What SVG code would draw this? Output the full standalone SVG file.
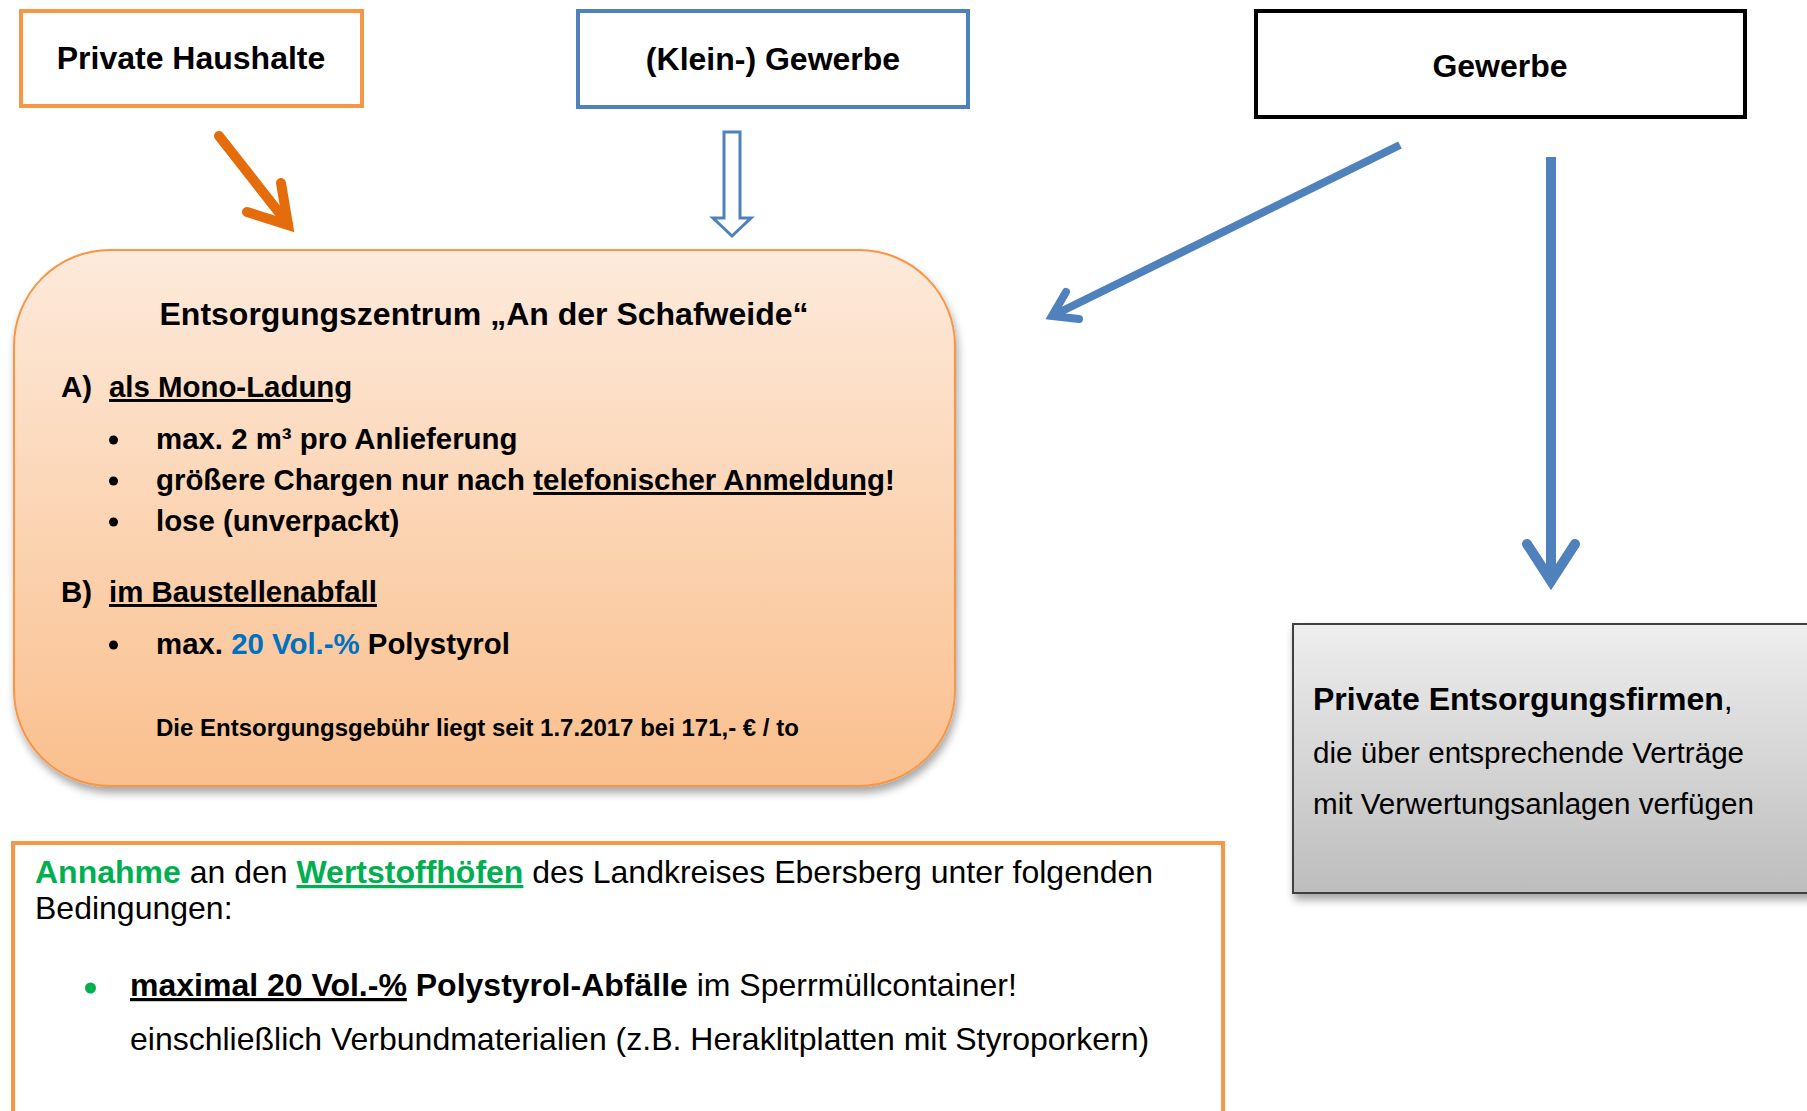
<svg xmlns="http://www.w3.org/2000/svg" width="1807" height="1111" viewBox="0 0 1807 1111">
<style>
text{font-family:"Liberation Sans",Arial,sans-serif;fill:#000}
.b{font-weight:bold}
.t32{font-size:32px}
.t29{font-size:29.4px}
.t295{font-size:29.6px}
.u{text-decoration:underline}
.box{fill:#fff;stroke-width:4}
.blue{stroke:#4F81BD;fill:none}
.green{fill:#00B050}
</style>
<defs>
<linearGradient id="gOrange" x1="0" y1="0" x2="0" y2="1">
<stop offset="0" stop-color="#FDEADB"/>
<stop offset="1" stop-color="#FABF8D"/>
</linearGradient>
<linearGradient id="gGray" x1="0" y1="0" x2="0" y2="1">
<stop offset="0" stop-color="#EEEEEE"/>
<stop offset="1" stop-color="#BDBDBD"/>
</linearGradient>
<filter id="shadow" x="-10%" y="-10%" width="120%" height="125%">
<feGaussianBlur in="SourceAlpha" stdDeviation="4"/>
<feOffset dx="2" dy="6" result="o"/>
<feComponentTransfer><feFuncA type="linear" slope="0.35"/></feComponentTransfer>
<feMerge><feMergeNode/><feMergeNode in="SourceGraphic"/></feMerge>
</filter>
</defs>
<rect width="1807" height="1111" fill="#fff"/>

<g id="private-haushalte">
<rect class="box" x="21" y="11" width="341" height="95" stroke="#F79646"/>
<text class="b t32" x="191" y="69" text-anchor="middle">Private Haushalte</text>
</g>

<g id="klein-gewerbe">
<rect class="box" x="578" y="11" width="390" height="96" stroke="#4F81BD"/>
<text class="b t32" x="773" y="70" text-anchor="middle">(Klein-) Gewerbe</text>
</g>

<g id="gewerbe">
<rect class="box" x="1256" y="11" width="489" height="106" stroke="#000"/>
<text class="b t32" x="1500" y="77" text-anchor="middle">Gewerbe</text>
</g>

<g id="entsorgungszentrum">
<rect x="14" y="250" width="941" height="536" rx="96" ry="96" fill="url(#gOrange)" stroke="#F79646" stroke-width="2" filter="url(#shadow)"/>
<text class="b t32" x="484" y="325" text-anchor="middle">Entsorgungszentrum „An der Schafweide“</text>
<text class="b t29" x="61" y="397">A)</text>
<text class="b t29 u" x="109" y="397">als Mono-Ladung</text>
<circle cx="113.5" cy="440" r="4.5"/>
<text class="b t29" x="156" y="449">max. 2 m³ pro Anlieferung</text>
<circle cx="113.5" cy="481" r="4.5"/>
<text class="b t29" x="156" y="490">größere Chargen nur nach <tspan class="u">telefonischer Anmeldung</tspan>!</text>
<circle cx="113.5" cy="522" r="4.5"/>
<text class="b t29" x="156" y="531">lose (unverpackt)</text>
<text class="b t29" x="61" y="602">B)</text>
<text class="b t29 u" x="109" y="602">im Baustellenabfall</text>
<circle cx="113.5" cy="645" r="4.5"/>
<text class="b t29" x="156" y="654">max. <tspan fill="#0070C0">20 Vol.-%</tspan> Polystyrol</text>
<text class="b" font-size="24" x="156" y="736">Die Entsorgungsgebühr liegt seit 1.7.2017 bei 171,- € / to</text>
</g>

<g id="private-entsorgungsfirmen">
<rect x="1293" y="624" width="540" height="269" fill="url(#gGray)" stroke="#3F3F3F" stroke-width="2" filter="url(#shadow)"/>
<text class="t32" x="1313" y="710"><tspan class="b">Private Entsorgungsfirmen</tspan>,</text>
<text class="t295" x="1313" y="763">die über entsprechende Verträge</text>
<text class="t295" x="1313" y="814">mit Verwertungsanlagen verfügen</text>
</g>

<g id="wertstoffhoefe">
<rect class="box" x="13" y="843" width="1210" height="290" stroke="#F79646"/>
<text class="t32" x="35" y="883"><tspan class="b green">Annahme</tspan> an den <tspan class="b green u">Wertstoffhöfen</tspan> des Landkreises Ebersberg unter folgenden</text>
<text class="t32" x="35" y="919">Bedingungen:</text>
<circle cx="90.5" cy="988" r="5.5" fill="#00B050"/>
<text class="t32" x="130" y="996"><tspan class="b u">maximal 20 Vol.-%</tspan><tspan class="b"> Polystyrol-Abfälle</tspan> im Sperrmüllcontainer!</text>
<text class="t32" x="130" y="1050" font-size="31.5">einschließlich Verbundmaterialien (z.B. Heraklitplatten mit Styroporkern)</text>
</g>

<g id="connectors">
<g stroke="#E46C0A" fill="none" stroke-width="10" stroke-linecap="round" stroke-linejoin="miter" stroke-miterlimit="10">
<path d="M219,136 L288,224"/>
<path d="M281,183 L288,225 L247,212"/>
</g>
<polygon points="724,132 740,132 740,218 751,218 732,236 713,218 724,218" fill="#fff" stroke="#4F81BD" stroke-width="3"/>
<g class="blue" stroke-width="8" stroke-linecap="round" stroke-linejoin="miter" stroke-miterlimit="10">
<path d="M1400,145 L1054,315" stroke-linecap="butt"/>
<path d="M1066,292 L1052,316 L1079,319"/>
</g>
<g class="blue" stroke-width="10" stroke-linecap="round" stroke-linejoin="miter" stroke-miterlimit="10">
<path d="M1551,157 L1551,578" stroke-linecap="butt"/>
<path d="M1527,544 L1551,581 L1575,544"/>
</g>
</g>
</svg>
